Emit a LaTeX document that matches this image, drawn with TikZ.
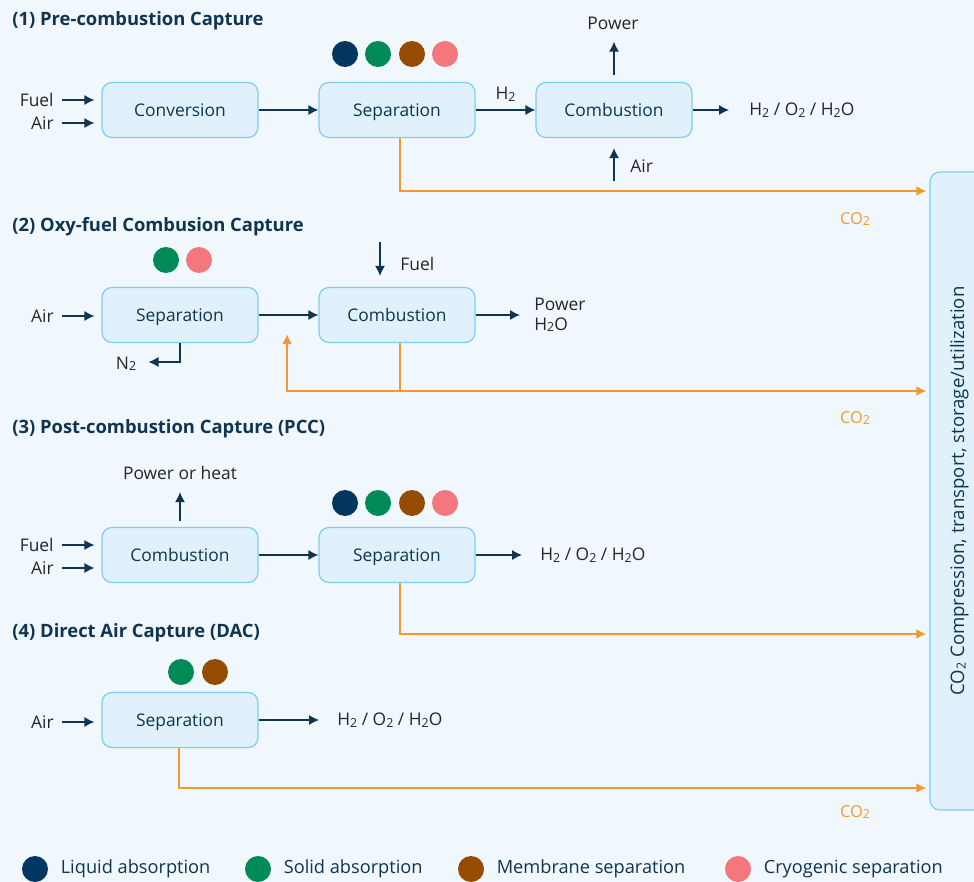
\documentclass[tikz,border=0pt]{standalone}
\usepackage{fontspec}
\setmainfont{Open Sans}
\usetikzlibrary{arrows.meta,positioning}
\definecolor{bgblue}{HTML}{F0F7FD}
\definecolor{boxfill}{HTML}{E1F1FB}
\definecolor{boxline}{HTML}{7FCDF2}
\definecolor{navy}{HTML}{0F3550}
\definecolor{co2orange}{HTML}{F39A2E}
\definecolor{liquid}{HTML}{00365F}
\definecolor{solid}{HTML}{008A57}
\definecolor{membrane}{HTML}{954B00}
\definecolor{cryo}{HTML}{F3777D}
\newcommand{\two}{\raisebox{-0.15ex}{\fontsize{6.2}{6}\selectfont 2}}

\begin{document}
\begin{tikzpicture}[x=0.5pt,y=-0.5pt,
    proc/.style={rectangle,rounded corners=5pt,draw=boxline,fill=boxfill,line width=0.6pt,
        minimum width=78pt,minimum height=27.5pt,text height=6.8pt,text depth=0.6pt,
        text=navy,font=\fontsize{8.7}{10}\selectfont},
    lbl/.style={inner sep=1pt,text=black!85,font=\fontsize{8.7}{10}\selectfont},
    co2lbl/.style={inner sep=1pt,text=co2orange,font=\fontsize{8.2}{10}\selectfont},
    title/.style={anchor=west,inner sep=0pt,text=navy,font=\bfseries\fontsize{9.2}{10}\selectfont},
    legend/.style={inner sep=1pt,text=navy,font=\fontsize{9.1}{10}\selectfont},
    flow/.style={draw=navy,line width=0.6pt,-{Latex[length=5pt,width=5pt]}},
    co2/.style={draw=co2orange,line width=1.2pt,-{Latex[length=5pt,width=5pt]}},
    dot/.style={circle,minimum size=13pt,inner sep=0pt}]

    \useasboundingbox (0,0) rectangle (974,882);
    \clip (0,0) rectangle (974,882);
    \fill[bgblue] (0,0) rectangle (974,882);

    % storage bar on the right
    \node[proc,rotate=90,minimum width=319pt,minimum height=28pt,font=\fontsize{9.3}{10}\selectfont]
        (store) at (958,491) {CO\two{} Compression, transport, storage/utilization};

    % (1) pre-combustion
    \node[title] (t1) at (12,21) {(1) Pre-combustion Capture};
    \node[proc] (conv1) at (180,110) {Conversion};
    \node[proc] (sep1) at (397,110) {Separation};
    \node[proc] (comb1) at (614,110) {Combustion};
    \node[dot,fill=liquid] (d1a) at (345,54) {};
    \node[dot,fill=solid] (d1b) at (378,54) {};
    \node[dot,fill=membrane] (d1c) at (412,54) {};
    \node[dot,fill=cryo] (d1d) at (445,54) {};
    \node[lbl,anchor=east] (fuel1) at (56,100) {Fuel};
    \node[lbl,anchor=east] (air1) at (56,123) {Air};
    \draw[flow] ([xshift=3pt]fuel1.east) -- ([xshift=-3.5pt]conv1.west |- fuel1.east);
    \draw[flow] ([xshift=3pt]air1.east) -- ([xshift=-3.5pt]conv1.west |- air1.east);
    \draw[flow] (conv1) -- (sep1);
    \draw[flow] (sep1) -- node[lbl,above=3pt] (h2a) {H\two} (comb1);
    \node[lbl,anchor=west] (out1) at (747,110) {H\two{} / O\two{} / H\two O};
    \draw[flow] (comb1) -- ([xshift=-9pt]out1.west);
    \node[lbl] (pow1) at (613,23) {Power};
    \draw[flow] ([yshift=3.5pt]comb1.north) -- ([yshift=-5pt]comb1.north |- pow1.south);
    \coordinate (air1b) at (614,181);
    \draw[flow] (air1b) -- ([yshift=-5pt]air1b |- comb1.south);
    \node[lbl,anchor=west] (air1c) at (628,166) {Air};
    \coordinate (j1) at (400,191);
    \draw[co2] (j1 |- sep1.south) -- (j1) -- ([xshift=-1.5pt]j1 -| store.north);
    \node[co2lbl] (c1) at (855,219) {CO\two};

    % (2) oxy-fuel
    \node[title] (t2) at (12,227) {(2) Oxy-fuel Combusion Capture};
    \node[dot,fill=solid] (d2a) at (166,260) {};
    \node[dot,fill=cryo] (d2b) at (199,260) {};
    \node[proc] (sep2) at (180,315) {Separation};
    \node[proc] (comb2) at (397,315) {Combustion};
    \node[lbl,anchor=east] (air2) at (56,316) {Air};
    \draw[flow] ([xshift=3pt]air2.east) -- ([xshift=-3.5pt]sep2.west |- air2.east);
    \draw[flow] (sep2) -- (comb2);
    \coordinate (fuel2a) at (380,242);
    \draw[flow] (fuel2a) -- ([yshift=5.5pt]fuel2a |- comb2.north);
    \node[lbl,anchor=west] (fuel2) at (398,264) {Fuel};
    \node[lbl,anchor=west,align=left] (out2) at (532,315) {Power\\H\two O};
    \draw[flow] (comb2) -- ([xshift=-6pt]out2.west |- comb2.east);
    \node[lbl] (n2) at (126,364) {N\two};
    \coordinate (n2c) at (180,362);
    \draw[flow] (sep2.south) -- (n2c) -- ([xshift=5pt]n2c -| n2.east);
    \coordinate (j2) at (400,391);
    \coordinate (j2l) at (287,391);
    \coordinate (j2t) at (287,334);
    \draw[co2] (j2 |- comb2.south) -- (j2) -- ([xshift=-1.5pt]j2 -| store.north);
    \draw[co2] (j2) -- (j2l) -- (j2t);
    \node[co2lbl] (c2) at (855,418) {CO\two};

    % (3) post-combustion
    \node[title] (t3) at (12,429) {(3) Post-combustion Capture (PCC)};
    \node[proc] (comb3) at (180,555) {Combustion};
    \node[proc] (sep3) at (397,555) {Separation};
    \node[dot,fill=liquid] (d3a) at (345,503) {};
    \node[dot,fill=solid] (d3b) at (378,503) {};
    \node[dot,fill=membrane] (d3c) at (412,503) {};
    \node[dot,fill=cryo] (d3d) at (445,503) {};
    \node[lbl] (pow3) at (180,473) {Power or heat};
    \draw[flow] ([yshift=3pt]comb3.north) -- ([yshift=-5pt]comb3.north |- pow3.south);
    \node[lbl,anchor=east] (fuel3) at (56,545) {Fuel};
    \node[lbl,anchor=east] (air3) at (56,568) {Air};
    \draw[flow] ([xshift=3pt]fuel3.east) -- ([xshift=-3.5pt]comb3.west |- fuel3.east);
    \draw[flow] ([xshift=3pt]air3.east) -- ([xshift=-3.5pt]comb3.west |- air3.east);
    \draw[flow] (comb3) -- (sep3);
    \node[lbl,anchor=west] (out3) at (538,555) {H\two{} / O\two{} / H\two O};
    \draw[flow] (sep3) -- ([xshift=-8pt]out3.west);
    \coordinate (j3) at (400,634);
    \draw[co2] (j3 |- sep3.south) -- (j3) -- ([xshift=-1.5pt]j3 -| store.north);

    % (4) direct air capture
    \node[title] (t4) at (12,633) {(4) Direct Air Capture (DAC)};
    \node[dot,fill=solid] (d4a) at (181,672) {};
    \node[dot,fill=membrane] (d4b) at (215,672) {};
    \node[proc] (sep4) at (180,720) {Separation};
    \node[lbl,anchor=east] (air4) at (56,722) {Air};
    \draw[flow] ([xshift=3pt]air4.east) -- ([xshift=-3.5pt]sep4.west |- air4.east);
    \node[lbl,anchor=west] (out4) at (335,720) {H\two{} / O\two{} / H\two O};
    \draw[flow] (sep4) -- ([xshift=-8pt]out4.west);
    \coordinate (j4) at (179,788);
    \draw[co2] (j4 |- sep4.south) -- (j4) -- ([xshift=-1.5pt]j4 -| store.north);
    \node[co2lbl] (c4) at (855,812) {CO\two};

    % legend
    \node[dot,fill=liquid] (lg1) at (35,869) {};
    \node[legend,right=5pt of lg1] (lt1) {Liquid absorption};
    \node[dot,fill=solid] (lg2) at (258,869) {};
    \node[legend,right=5pt of lg2] (lt2) {Solid absorption};
    \node[dot,fill=membrane] (lg3) at (471,869) {};
    \node[legend,right=5pt of lg3] (lt3) {Membrane separation};
    \node[dot,fill=cryo] (lg4) at (738,869) {};
    \node[legend,right=5pt of lg4] (lt4) {Cryogenic separation};
\end{tikzpicture}
\end{document}
